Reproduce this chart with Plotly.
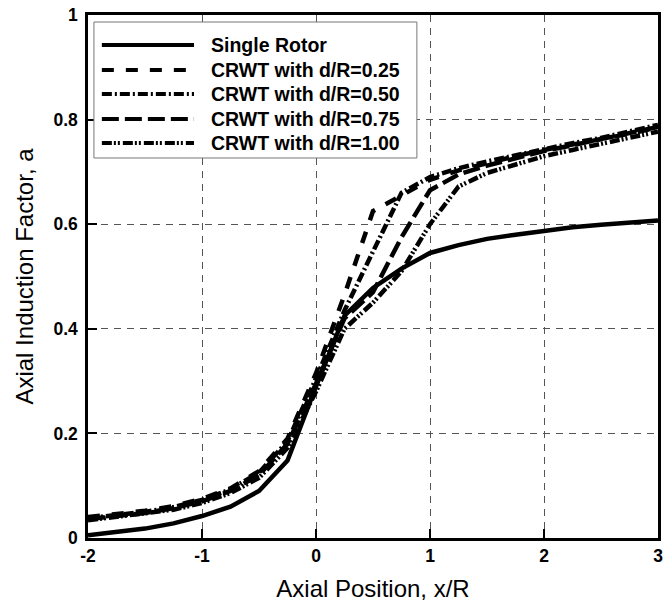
import plotly.graph_objects as go

x_pos = [-2, -1.75, -1.5, -1.25, -1, -0.75, -0.5, -0.25, 0, 0.25, 0.5, 0.75, 1,
         1.25, 1.5, 1.75, 2, 2.25, 2.5, 2.75, 3]

single_rotor = [0.005, 0.011, 0.018, 0.028, 0.042, 0.060, 0.090, 0.148, 0.290, 0.425,
                0.478, 0.515, 0.545, 0.560, 0.572, 0.580, 0.588, 0.594, 0.599, 0.603, 0.607]
crwt_025 = [0.040, 0.046, 0.052, 0.061, 0.075, 0.095, 0.128, 0.190, 0.315, 0.465,
            0.625, 0.655, 0.685, 0.703, 0.717, 0.730, 0.742, 0.752, 0.762, 0.773, 0.785]
crwt_050 = [0.038, 0.044, 0.050, 0.059, 0.073, 0.093, 0.125, 0.185, 0.305, 0.435,
            0.548, 0.660, 0.690, 0.707, 0.720, 0.732, 0.745, 0.755, 0.765, 0.777, 0.790]
crwt_075 = [0.036, 0.042, 0.048, 0.057, 0.070, 0.090, 0.120, 0.180, 0.295, 0.420,
            0.470, 0.575, 0.665, 0.695, 0.712, 0.726, 0.740, 0.751, 0.762, 0.774, 0.786]
crwt_100 = [0.034, 0.040, 0.046, 0.054, 0.067, 0.086, 0.115, 0.172, 0.280, 0.400,
            0.450, 0.510, 0.600, 0.672, 0.698, 0.715, 0.730, 0.742, 0.754, 0.765, 0.777]

names = ["Single Rotor", "CRWT with d/R=0.25", "CRWT with d/R=0.50",
         "CRWT with d/R=0.75", "CRWT with d/R=1.00"]
series = [single_rotor, crwt_025, crwt_050, crwt_075, crwt_100]
dashes = ["solid", "12px,12px", "10px,3px,2px,3px", "17px,6px", "10px,2px,2px,2px,2px,3px"]
widths = [4.5, 4.5, 4.5, 4.5, 4.5]

x_ticks = [-2, -1, 0, 1, 2, 3]
x_tick_text = ["-2", "-1", "0", "1", "2", "3"]
y_ticks = [0, 0.2, 0.4, 0.6, 0.8, 1]
y_tick_text = ["0", "0.2", "0.4", "0.6", "0.8", "1"]

FONT = "Liberation Sans, Arial, sans-serif"

fig = go.Figure()
for name, ys, dsh, w in zip(names, series, dashes, widths):
    fig.add_trace(go.Scatter(x=x_pos, y=ys, mode="lines", name=name,
                             line=dict(color="black", width=w, dash=dsh),
                             showlegend=False))

# Manual legend (long line samples like the reference)
box = dict(x0=0.0104, x1=0.577, y0=0.7266, y1=0.9866)
fig.add_shape(type="rect", xref="paper", yref="paper", **box,
              line=dict(color="#777", width=1), fillcolor="white", layer="above")
row_y = [0.9426, 0.8948, 0.8489, 0.8011, 0.7553]
for name, dsh, ry in zip(names, dashes, row_y):
    fig.add_shape(type="line", xref="paper", yref="paper", x0=0.0243, x1=0.186,
                  y0=ry, y1=ry, line=dict(color="black", width=4, dash=dsh), layer="above")
    fig.add_annotation(xref="paper", yref="paper", x=0.2122, y=ry, text=name,
                       showarrow=False, xanchor="left", yanchor="middle",
                       font=dict(family=FONT, size=19.5, color="black", weight="bold"))

axis_common = dict(
    showline=True, linecolor="black", linewidth=2.5, mirror=True,
    ticks="inside", ticklen=9, tickwidth=2, tickcolor="black",
    showgrid=True, gridcolor="#555", gridwidth=1, griddash="7px,6px",
    zeroline=False,
    tickfont=dict(family=FONT, size=17.5, color="black", weight="bold"),
)

fig.update_xaxes(range=[-2, 3], tickvals=x_ticks, ticktext=x_tick_text, **axis_common,
                 title=dict(text="Axial Position, x/R",
                            font=dict(family=FONT, size=24, color="black"), standoff=16))
fig.update_yaxes(range=[0, 1], tickvals=y_ticks, ticktext=y_tick_text, **axis_common,
                 ticklabelstandoff=4,
                 title=dict(text="Axial Induction Factor, a",
                            font=dict(family=FONT, size=24, color="black"), standoff=14))

fig.update_layout(
    width=667, height=603,
    margin=dict(l=88, r=4, t=15, b=65),
    plot_bgcolor="white", paper_bgcolor="white",
    font=dict(family=FONT, color="black"),
)

fig.write_html("out.html")
